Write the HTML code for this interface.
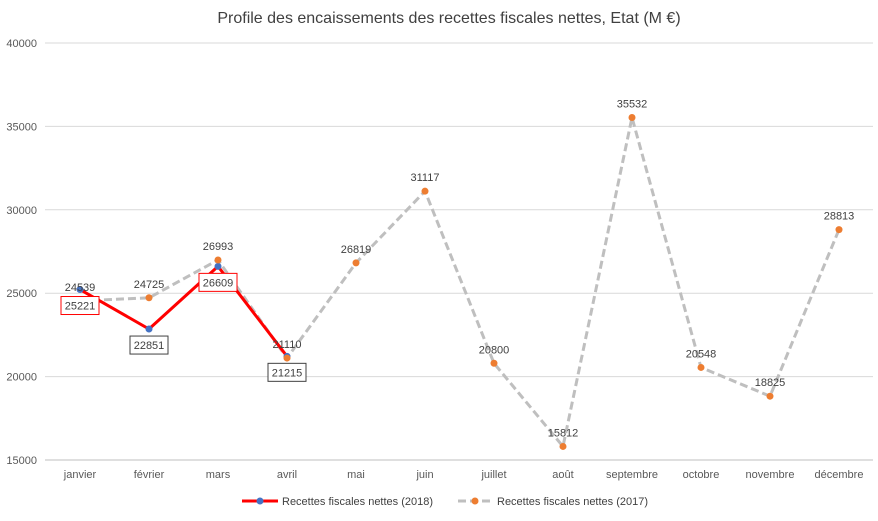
<!DOCTYPE html>
<html><head><meta charset="utf-8"><style>
body{margin:0;background:#fff;font-family:"Liberation Sans",sans-serif}
svg text{font-family:"Liberation Sans",sans-serif}
</style></head><body>
<svg width="878" height="516" viewBox="0 0 878 516">
<text x="449" y="23" text-anchor="middle" font-size="16" fill="#404040">Profile des encaissements des recettes fiscales nettes, Etat (M €)</text>
<g id="grid"></g><g id="axes"></g><g id="series"></g><g id="labels"></g>
<g>
<g>
<line x1="242" y1="501" x2="278" y2="501" stroke="#ff0000" stroke-width="3"/>
<circle cx="260" cy="501" r="3.5" fill="#4472c4"/>
<text x="282" y="505" font-size="11" fill="#404040">Recettes fiscales nettes (2018)</text></g>
<g>
<line x1="458" y1="501" x2="492" y2="501" stroke="#bfbfbf" stroke-width="3" stroke-dasharray="8,4"/>
<circle cx="475" cy="501" r="3.5" fill="#ed7d31"/>
<text x="497" y="505" font-size="11" fill="#404040">Recettes fiscales nettes (2017)</text></g>
</g>
</svg>
<script>
const categories=["janvier","février","mars","avril","mai","juin","juillet","août","septembre","octobre","novembre","décembre"];
const values2018=[25221,22851,26609,21215];
const values2017=[24539,24725,26993,21110,26819,31117,20800,15812,35532,20548,18825,28813];
const yTicks=[15000,20000,25000,30000,35000,40000];
const NS="http://www.w3.org/2000/svg";
const yMin=15000,yMax=40000,yTop=43,yBot=460;
function y(v){return yBot-(v-yMin)/(yMax-yMin)*(yBot-yTop);}
function x(i){return 80+i*69;}
function mk(tag,attrs,parent,txt){const e=document.createElementNS(NS,tag);for(const k in attrs)e.setAttribute(k,attrs[k]);if(txt!==undefined)e.textContent=txt;document.getElementById(parent).appendChild(e);return e;}
yTicks.forEach(t=>{
 const l=mk("line",{x1:45,x2:873,y1:y(t),y2:y(t),stroke:t===yMin?"#bfbfbf":"#d9d9d9","stroke-width":1},"grid");
 
 
 const tx=mk("text",{x:37,y:y(t)+4,"text-anchor":"end","font-size":"11",fill:"#595959"},"axes",t);
 
 
});
categories.forEach((c,i)=>{
 const tx=mk("text",{x:x(i),y:478,"text-anchor":"middle","font-size":"11",fill:"#595959"},"axes",c);
 
 
});
const p17=mk("polyline",{points:values2017.map((v,i)=>x(i)+","+y(v)).join(" "),fill:"none",stroke:"#bfbfbf","stroke-width":3,"stroke-dasharray":"8,4"},"series");


const p18=mk("polyline",{points:values2018.map((v,i)=>x(i)+","+y(v)).join(" "),fill:"none",stroke:"#ff0000","stroke-width":3},"series");


values2018.forEach((v,i)=>{
 const c=mk("circle",{cx:x(i),cy:y(v),r:3.5,fill:"#4472c4"},"series");
 
 
});
values2017.forEach((v,i)=>{
 const c=mk("circle",{cx:x(i),cy:y(v),r:3.5,fill:"#ed7d31"},"series");
 
 
 const t=mk("text",{x:x(i),y:y(v)-10,"text-anchor":"middle","font-size":"11",fill:"#404040"},"labels",v);
 
 
});
values2018.forEach((v,i)=>{
 const cy=y(v)+16;
 const r=mk("rect",{x:x(i)-19,y:cy-9,width:38,height:18,fill:"#fff",stroke:i===1||i===3?"#404040":"#ff0000","stroke-width":1},"labels");
 
 
 const t=mk("text",{x:x(i),y:cy+4,"text-anchor":"middle","font-size":"11",fill:"#404040"},"labels",v);
 
 
});
</script>
</body></html>
